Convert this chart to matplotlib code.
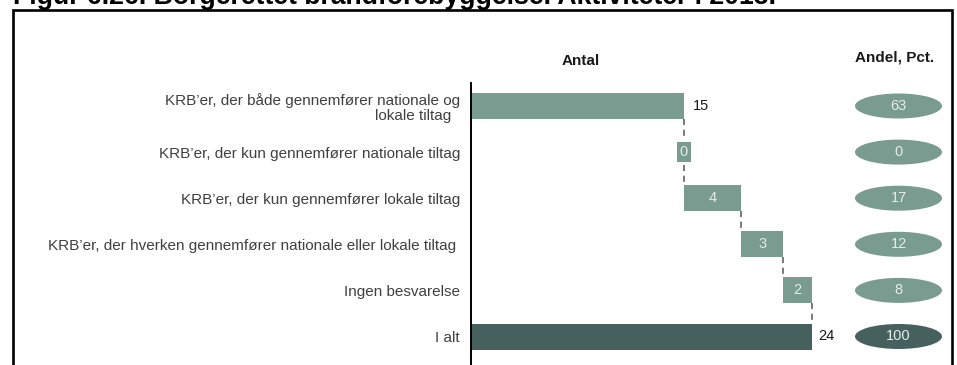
import matplotlib.pyplot as plt
from matplotlib.patches import Ellipse, Rectangle

plt.rcParams['font.family'] = ['Liberation Sans', 'DejaVu Sans']

title = "Figur 6.26. Borgerettet brandforebyggelse. Aktiviteter i 2013."
categories = [
    "KRB\u2019er, der både gennemfører nationale og\nlokale tiltag  ",
    "KRB\u2019er, der kun gennemfører nationale tiltag",
    "KRB\u2019er, der kun gennemfører lokale tiltag",
    "KRB\u2019er, der hverken gennemfører nationale eller lokale tiltag ",
    "Ingen besvarelse",
    "I alt",
]
counts = [15, 0, 4, 3, 2]
total = 24
shares = [63, 0, 17, 12, 8, 100]

light = '#7a9b8f'
dark = '#46615d'
pale_text = '#e4ece8'

fig = plt.figure(figsize=(9.57, 3.65), dpi=100)

# frame around the whole figure, bottom edge runs off the canvas
fig.patches.append(Rectangle((12.5 / 957, -0.1), (951.5 - 12.5) / 957, 1.1 - 10.5 / 365,
                             transform=fig.transFigure, fill=False,
                             edgecolor='black', linewidth=1.9, clip_on=False))
fig.text(13 / 957, 1 - 3.5 / 365, title, fontsize=19.2, fontweight='bold',
         va='baseline', ha='left')

ax = fig.add_axes([471 / 957, 0, 486 / 957, (365 - 83) / 365])
px = 14.2          # pixels per unit on the x axis
ax.set_xlim(0, 486 / px)
ax.set_ylim((365 - 106) / 46.1, (83 - 106) / 46.1)
h = 26 / 46.1

# waterfall steps
lefts = [sum(counts[:i]) for i in range(len(counts))]
rows = list(range(len(categories)))
ax.barh(rows[:-1], counts, left=lefts, height=h, color=light)
ax.barh(rows[-1], total, left=0, height=h, color=dark)

ends = [l + c for l, c in zip(lefts, counts)]
for i, x in enumerate(ends):
    ax.plot([x, x], [i + h / 2, i + 1 - h / 2], color='#555555',
            linewidth=1.1, dashes=(4, 3), zorder=1)

for i, (l, c) in enumerate(zip(lefts, counts)):
    if i == 0:
        ax.text(l + c + 0.6, i, str(c), va='center', ha='left',
                fontsize=10.5, color='#1a1a1a')
    elif c == 0:
        ax.text(l, i, str(c), va='center', ha='center', fontsize=10.5,
                color=pale_text, zorder=3,
                bbox=dict(boxstyle='square,pad=0.2', facecolor=light,
                          edgecolor='none'))
    else:
        ax.text(l + c / 2, i, str(c), va='center', ha='center',
                fontsize=10.5, color=pale_text)
ax.text(total + 0.45, rows[-1], str(total), va='center', ha='left',
        fontsize=10.5, color='#1a1a1a')

# share ellipses
ex = (898.5 - 471) / px
for i, s in enumerate(shares):
    col = dark if i == len(shares) - 1 else light
    ax.add_patch(Ellipse((ex, i), 87 / px, 25 / 46.1, facecolor=col,
                         edgecolor='none'))
    ax.text(ex, i, str(s), va='center', ha='center', fontsize=10.5,
            color=pale_text)

ax.set_yticks(rows)
ax.set_yticklabels(categories)
for lbl in ax.get_yticklabels():
    lbl.set_linespacing(1.05)
ax.tick_params(axis='y', length=0, pad=8, labelsize=11, labelcolor='#404040')
ax.set_xticks([])
for side in ['top', 'right', 'bottom']:
    ax.spines[side].set_visible(False)
ax.spines['left'].set_linewidth(1.4)
ax.spines['left'].set_color('black')
ax.patch.set_alpha(0)

fig.text(580.5 / 957, 1 - 61 / 365, "Antal", fontsize=11, fontweight='bold',
         ha='center', va='center', color='#1a1a1a')
fig.text(895 / 957, 1 - 57 / 365, "Andel, Pct.", fontsize=11, fontweight='bold',
         ha='center', va='center', color='#1a1a1a')

fig.savefig('out.png', dpi=100)
